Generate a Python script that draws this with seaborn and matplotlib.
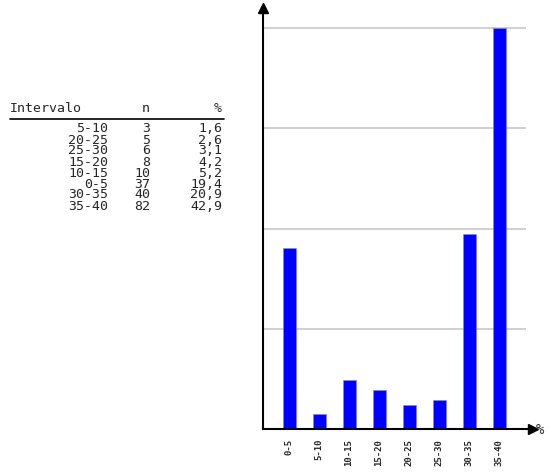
import matplotlib
matplotlib.use("Agg")
import matplotlib.pyplot as plt
import pandas as pd
import seaborn as sns

# table (sorted by n, as in the original)
tab_interval = ["5-10", "20-25", "25-30", "15-20", "10-15", "0-5", "30-35", "35-40"]
tab_n = [3, 5, 6, 8, 10, 37, 40, 82]
tab_pct = ["1,6", "2,6", "3,1", "4,2", "5,2", "19,4", "20,9", "42,9"]

# bars (in interval order)
categories = ["0-5", "5-10", "10-15", "15-20", "20-25", "25-30", "30-35", "35-40"]
percent = [19.4, 1.6, 5.2, 4.2, 2.6, 3.1, 20.9, 42.9]

df = pd.DataFrame({"intervalo": categories, "pct": percent})

sns.set_style("white")
plt.rcParams["font.family"] = ["DejaVu Sans Mono"]

W, H = 548, 475
fig = plt.figure(figsize=(W / 100, H / 100), dpi=100)

# axes placed in pixel terms
x0, x1 = 263, 533
y0, y1 = 429, 8
ax = fig.add_axes([x0 / W, (H - y0) / H, (x1 - x0) / W, (y0 - y1) / H])

top = max(percent)
for k in range(1, 5):
    ax.hlines(top * k / 4, -0.87, 7.9, color="#c8c8c8", lw=1.2, zorder=0)

sns.barplot(data=df, x="intervalo", y="pct", color="#0000ff", width=0.43,
            saturation=1, edgecolor="#8080ff", linewidth=0.4, ax=ax, zorder=2)

ax.set_xlim(-0.87, 8.13)
ax.set_ylim(0, top * 421 / 401)
ax.set_xlabel("")
ax.set_ylabel("")
ax.set_yticks([])
ax.tick_params(axis="x", length=0, pad=7)
for lab in ax.get_xticklabels():
    lab.set_rotation(90)
    lab.set_fontsize(6.5)
    lab.set_fontweight("bold")
    lab.set_va("top")

for s in ["top", "right"]:
    ax.spines[s].set_visible(False)
ax.spines["left"].set_linewidth(1.5)
ax.spines["bottom"].set_linewidth(1.5)
ax.spines["left"].set_color("black")
ax.spines["bottom"].set_color("black")

# arrow heads
ax.plot([1], [0], marker=">", color="black", ms=7, transform=ax.transAxes, clip_on=False)
ax.plot([0], [1], marker="^", color="black", ms=7, transform=ax.transAxes, clip_on=False)
fig.text(536 / W, 1 - 430 / H, "%", fontsize=10, va="center", ha="left")

# table on the left
fs = 9.5
hy = 1 - 109 / H
fig.text(10 / W, hy, "Intervalo", fontsize=fs, va="center", ha="left")
fig.text(150 / W, hy, "n", fontsize=fs, va="center", ha="right")
fig.text(222 / W, hy, "%", fontsize=fs, va="center", ha="right")
fig.add_artist(plt.Line2D([10 / W, 224 / W], [1 - 119 / H, 1 - 119 / H],
                          color="black", lw=1.2))
for i, (iv, n, p) in enumerate(zip(tab_interval, tab_n, tab_pct)):
    yy = 1 - (129 + i * 11) / H
    fig.text(108 / W, yy, iv, fontsize=fs, va="center", ha="right")
    fig.text(150 / W, yy, str(n), fontsize=fs, va="center", ha="right")
    fig.text(222 / W, yy, p, fontsize=fs, va="center", ha="right")

fig.savefig("out.png", dpi=100)
